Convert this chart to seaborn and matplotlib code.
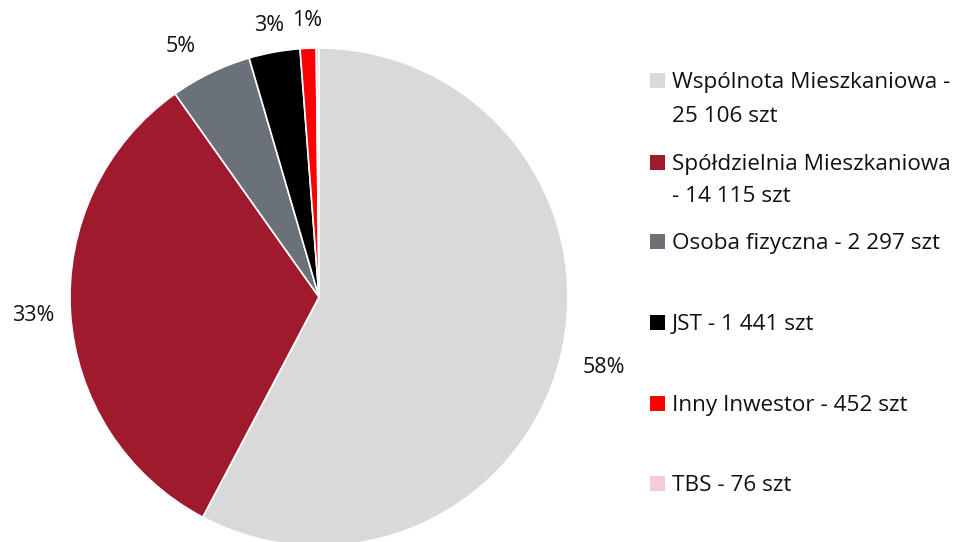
import matplotlib
matplotlib.use("Agg")
import matplotlib.pyplot as plt
import seaborn as sns
import numpy as np
from matplotlib.patches import Rectangle

# data
categories = ["Wspólnota Mieszkaniowa", "Spółdzielnia Mieszkaniowa", "Osoba fizyczna",
              "JST", "Inny Inwestor", "TBS"]
counts = [25106, 14115, 2297, 1441, 452, 76]
pct_labels = ["58%", "33%", "5%", "3%", "1%", ""]
legend_lines = [["Wspólnota Mieszkaniowa -", "25 106 szt"],
                ["Spółdzielnia Mieszkaniowa", "- 14 115 szt"],
                ["Osoba fizyczna - 2 297 szt"],
                ["JST - 1 441 szt"],
                ["Inny Inwestor - 452 szt"],
                ["TBS - 76 szt"]]
colors = ["#d9d9d9", "#a01a2d", "#6b7178", "#000000", "#ff0000", "#f4ccd3"]

sns.set_theme(style="white")
plt.rcParams["font.family"] = ["Open Sans", "DejaVu Sans"]

W, H = 963, 542
fig = plt.figure(figsize=(W / 100, H / 100), dpi=100)
ax = fig.add_axes([0, 0, 1, 1])

# pie centre / radius in pixels
cx, cy, r = 319, 297, 249
wedges, texts = ax.pie(counts, colors=colors, labels=pct_labels, startangle=90,
                       counterclock=False, labeldistance=1.17, radius=1,
                       wedgeprops=dict(edgecolor="white", linewidth=1.2),
                       textprops=dict(fontsize=15.5, color="#111111"))
# pull the small top labels a bit closer, like the original
label_dist = [1.18, 1.15, 1.15, 1.11, 1.11, 1.1]
label_turn = [0, 0, 3, 0, 0, 0]  # degrees, counter-clockwise
for t, w, d, turn in zip(texts, wedges, label_dist, label_turn):
    ang = np.deg2rad((w.theta1 + w.theta2) / 2 + turn)
    t.set_position((d * np.cos(ang), d * np.sin(ang)))
    t.set_ha("center")
    t.set_va("center")
ax.set_xlim(-cx / r, (W - cx) / r)
ax.set_ylim(-(H - cy) / r, cy / r)
ax.set_aspect("auto")
ax.axis("off")

# legend, placed by hand (rows spaced evenly like the original)
row_base = [[88, 122], [170, 202], [249], [330], [411], [491]]
for lines, bases, col in zip(legend_lines, row_base, colors):
    top = bases[0] - 15
    fig.patches.append(Rectangle((650 / W, 1 - (top + 15) / H), 15 / W, 15 / H,
                                 transform=fig.transFigure, facecolor=col,
                                 edgecolor="none", figure=fig))
    for txt, b in zip(lines, bases):
        fig.text(672 / W, 1 - b / H, txt, fontsize=16.2, color="#111111",
                 ha="left", va="baseline")

fig.savefig("out.png", dpi=100)
